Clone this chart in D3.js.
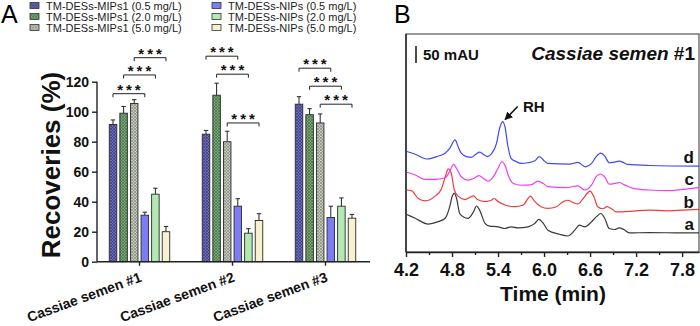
<!DOCTYPE html>
<meta charset="utf-8">
<style>
body { margin: 0; background: #fff; }
svg { font-family: "Liberation Sans", Arial, sans-serif; }
.axis path, .axis line { stroke: #222; stroke-width: 1.4px; }
.axis text { font-weight: bold; fill: #111; }
</style>
<svg width="700" height="326"></svg>
<script src="https://d3js.org/d3.v7.min.js"></script>
<script>

// ---- panel A data ----
var groups = ["Cassiae semen #1", "Cassiae semen #2", "Cassiae semen #3"];
var seriesNames = ["TM-DESs-MIPs1 (0.5 mg/L)", "TM-DESs-MIPs1 (2.0 mg/L)", "TM-DESs-MIPs1 (5.0 mg/L)",
                   "TM-DESs-NIPs (0.5 mg/L)", "TM-DESs-NIPs (2.0 mg/L)", "TM-DESs-NIPs (5.0 mg/L)"];
// recoveries[series][group]
var recoveries = [[91.5, 85, 105], [99, 111, 98], [105.5, 80, 92.5],
                  [31, 37, 29.5], [45, 19, 37], [20, 27.5, 29]];
var errors = [[3, 2.5, 5], [4.5, 8, 4], [2.5, 7, 6],
              [2, 5, 7.5], [4, 3, 5.5], [3.5, 4.5, 2.5]];
// significance bracket heights (%), per group, for pairs 1-4, 2-5, 3-6
var bracketLevels = [[112, 124.5, 136], [137, 125, 92.5], [129, 117, 105]];
var yTicks = [0, 20, 40, 60, 80, 100, 120];

// ---- panel B data: [time (min), absorbance (mAU, stacked)] ----
var traceA = [[4.21,110],[4.32,99],[4.49,82],[4.62,89],[4.71,99],[4.77,133],[4.80,162],[4.83,172],[4.86,157],[4.90,113],[4.95,103],[5.01,99],[5.08,118],[5.12,135],[5.16,123],[5.23,84],[5.29,76],[5.40,74],[5.49,69],[5.57,74],[5.66,71],[5.79,74],[5.88,84],[5.93,96],[5.99,84],[6.05,64],[6.20,52],[6.31,47],[6.40,64],[6.46,79],[6.53,74],[6.62,89],[6.68,103],[6.74,113],[6.79,99],[6.85,69],[6.92,66],[6.98,71],[7.04,66],[7.11,56],[7.37,57],[7.81,56],[8.02,56]];
var traceB = [[4.21,182],[4.27,180],[4.36,157],[4.45,150],[4.58,164],[4.66,184],[4.72,226],[4.75,244],[4.79,231],[4.83,182],[4.88,164],[4.97,154],[5.03,160],[5.08,165],[5.13,154],[5.23,148],[5.31,152],[5.35,157],[5.40,148],[5.49,138],[5.62,133],[5.73,138],[5.79,157],[5.82,164],[5.88,148],[5.96,133],[6.05,128],[6.16,133],[6.25,148],[6.31,152],[6.38,145],[6.44,141],[6.51,157],[6.57,174],[6.60,179],[6.65,162],[6.70,133],[6.77,127],[6.82,133],[6.88,127],[6.94,118],[7.16,120],[7.37,123],[7.59,121],[7.81,123],[8.02,125]];
var traceC = [[4.21,234],[4.32,226],[4.45,213],[4.58,213],[4.71,218],[4.77,236],[4.82,257],[4.87,241],[4.92,221],[5.01,211],[5.10,218],[5.15,224],[5.21,216],[5.27,208],[5.34,221],[5.40,246],[5.45,265],[5.49,255],[5.54,221],[5.60,201],[5.70,196],[5.83,197],[5.92,208],[5.99,201],[6.05,192],[6.29,189],[6.44,194],[6.53,182],[6.62,197],[6.68,221],[6.73,229],[6.79,221],[6.85,199],[6.92,201],[6.98,204],[7.05,197],[7.16,187],[7.37,182],[7.59,180],[7.81,184],[8.02,189]];
var traceD = [[4.21,295],[4.32,287],[4.47,273],[4.60,280],[4.71,290],[4.77,304],[4.84,329],[4.88,309],[4.92,290],[4.99,280],[5.05,278],[5.11,287],[5.16,293],[5.22,285],[5.26,280],[5.32,290],[5.38,319],[5.42,363],[5.46,383],[5.49,368],[5.53,309],[5.57,275],[5.64,265],[5.70,260],[5.79,262],[5.88,268],[5.94,280],[6.00,268],[6.05,260],[6.33,258],[6.44,263],[6.54,250],[6.62,260],[6.68,280],[6.74,290],[6.79,282],[6.85,262],[6.92,264],[6.98,267],[7.04,262],[7.09,257],[7.37,254],[8.02,252]];
var traceLabels = ["a", "b", "c", "d"];
var timeTicks = [4.2, 4.8, 5.4, 6.0, 6.6, 7.2, 7.8];
var timeMinor = [4.5, 5.1, 5.7, 6.3, 6.9, 7.5];
var rhPeak = [5.46, 383];

var svg = d3.select("svg");

// fills
var baseCols = ["#6a6ab8", "#78a878", "#c4c8bc", "#7d7df2", "#b2e8b2", "#f7f1d0"];
var hatchCols = ["#35357a", "#3c683c", "#7c8474"];
var defs = svg.append("defs");
hatchCols.forEach(function(c, i) {
  var p = defs.append("pattern")
      .attr("id", "hatch" + i)
      .attr("patternUnits", "userSpaceOnUse")
      .attr("width", 3).attr("height", 3);
  p.append("rect").attr("width", 3).attr("height", 3).attr("fill", baseCols[i]);
  p.append("path").attr("d", "M0,0L3,3M3,0L0,3M-1,2L1,4M2,-1L4,1")
      .attr("stroke", c).attr("stroke-width", 0.6);
});
function fillFor(i) { return i < 3 ? "url(#hatch" + i + ")" : baseCols[i]; }

// ================= panel A =================
var gA = svg.append("g");

gA.append("text").attr("x", 1).attr("y", 23)
    .style("font-size", "25px").text("A");

// legend
var legend = gA.selectAll(".leg").data(seriesNames).enter().append("g")
    .attr("transform", function(d, i) {
      return "translate(" + (i < 3 ? 30 : 212) + "," + (5.5 + (i % 3) * 11) + ")";
    });
legend.append("rect").attr("x", 0).attr("y", -3).attr("width", 9).attr("height", 6)
    .attr("fill", function(d, i) { return fillFor(i); })
    .attr("stroke", "#333").attr("stroke-width", 0.8);
legend.append("text").attr("x", 16).attr("y", 4)
    .style("font-size", "11px").attr("fill", "#222")
    .text(function(d) { return d; });

var y = d3.scaleLinear().domain([0, 120]).range([261.7, 81.7]);
var x0 = d3.scaleBand().domain(groups).range([93, 372]);
var x1 = d3.scaleBand().domain(d3.range(6)).range([0, 60.5]).paddingInner(0.29);
function barLeft(g, s) { return x0(groups[g]) + x0.bandwidth() / 2 - 30.25 + x1(s); }
function barMid(g, s) { return barLeft(g, s) + x1.bandwidth() / 2; }

var bars = [];
recoveries.forEach(function(vals, s) {
  vals.forEach(function(v, g) { bars.push({s: s, g: g, v: v, e: errors[s][g]}); });
});

// error bars (upper only)
var eb = gA.append("g").selectAll("g").data(bars).enter().append("g");
eb.append("line")
    .attr("x1", function(d) { return barMid(d.g, d.s); })
    .attr("x2", function(d) { return barMid(d.g, d.s); })
    .attr("y1", function(d) { return y(d.v); })
    .attr("y2", function(d) { return y(d.v + d.e); })
    .attr("stroke", "#222").attr("stroke-width", 1);
eb.append("line")
    .attr("x1", function(d) { return barMid(d.g, d.s) - 2.2; })
    .attr("x2", function(d) { return barMid(d.g, d.s) + 2.2; })
    .attr("y1", function(d) { return y(d.v + d.e); })
    .attr("y2", function(d) { return y(d.v + d.e); })
    .attr("stroke", "#222").attr("stroke-width", 1);

gA.append("g").selectAll("rect").data(bars).enter().append("rect")
    .attr("x", function(d) { return barLeft(d.g, d.s); })
    .attr("y", function(d) { return y(d.v); })
    .attr("width", x1.bandwidth())
    .attr("height", function(d) { return y(0) - y(d.v); })
    .attr("fill", function(d) { return fillFor(d.s); })
    .attr("stroke", "#2a2a2a").attr("stroke-width", 0.9);

// axes
var yAxis = gA.append("g").attr("class", "axis")
    .attr("transform", "translate(97,0)")
    .call(d3.axisLeft(y).tickValues(yTicks).tickSize(5).tickPadding(3).tickSizeOuter(0));
yAxis.select(".domain").attr("d", "M0," + y(120) + "V" + y(0));
yAxis.selectAll("text").style("font-size", "14px").attr("dy", "0.36em");

var xAxis = gA.append("g").attr("class", "axis")
    .attr("transform", "translate(0," + y(0) + ")")
    .call(d3.axisBottom(x0).tickSize(4).tickSizeOuter(0).tickFormat(""));
xAxis.select(".domain").attr("d", "M97,0H370");

gA.selectAll(".xlab").data(groups).enter().append("text")
    .attr("transform", function(d) {
      return "translate(" + (x0(d) + x0.bandwidth() / 2 + 3) + ",281) rotate(-20)";
    })
    .attr("text-anchor", "end")
    .style("font-size", "14px").style("font-weight", "bold").attr("fill", "#111")
    .text(function(d) { return d; });

gA.append("text")
    .attr("transform", "translate(60,165) rotate(-90)")
    .attr("text-anchor", "middle")
    .style("font-size", "26px").style("font-weight", "bold").attr("fill", "#111")
    .text("Recoveries (%)");

// significance brackets
var br = [];
bracketLevels.forEach(function(levels, g) {
  levels.forEach(function(lv, k) { br.push({g: g, a: k, b: k + 3, lv: lv}); });
});
var bg = gA.append("g").selectAll("g").data(br).enter().append("g");
bg.append("path")
    .attr("d", function(d) {
      var xa = barMid(d.g, d.a), xb = barMid(d.g, d.b), yy = y(d.lv);
      return "M" + xa + "," + (yy + 3.5) + "V" + yy + "H" + xb + "V" + (yy + 3.5);
    })
    .attr("fill", "none").attr("stroke", "#222").attr("stroke-width", 1);
bg.append("text")
    .attr("x", function(d) { return (barMid(d.g, d.a) + barMid(d.g, d.b)) / 2 + 1.5; })
    .attr("y", function(d) { return y(d.lv) + 1; })
    .attr("text-anchor", "middle")
    .style("font-size", "15px").style("font-weight", "bold").style("letter-spacing", "3px")
    .attr("fill", "#111")
    .text("***");

// ================= panel B =================
var gB = svg.append("g");
gB.append("text").attr("x", 394).attr("y", 23)
    .style("font-size", "25px").text("B");

var xt = d3.scaleLinear().domain([4.2, 8.02]).range([406, 699]);
var ya = d3.scaleLinear().domain([0, 640]).range([252, 34]);

gB.append("rect")
    .attr("x", xt(4.2)).attr("y", ya(640))
    .attr("width", xt(8.02) - xt(4.2)).attr("height", ya(0) - ya(640))
    .attr("fill", "none").attr("stroke", "#555").attr("stroke-width", 1.2);

var tAxis = gB.append("g").attr("class", "axis")
    .attr("transform", "translate(0," + ya(0) + ")")
    .call(d3.axisBottom(xt).tickValues(timeTicks).tickSize(5).tickPadding(6).tickSizeOuter(0)
      .tickFormat(d3.format(".1f")));
tAxis.selectAll("text").style("font-size", "18px");
gB.append("g").attr("class", "axis")
    .attr("transform", "translate(0," + ya(0) + ")")
    .call(d3.axisBottom(xt).tickValues(timeMinor).tickSize(3).tickSizeOuter(0).tickFormat(""))
    .select(".domain").remove();
gB.append("line").attr("x1", xt(4.2)).attr("x2", xt(4.2))
    .attr("y1", ya(640)).attr("y2", ya(0))
    .attr("stroke", "#222").attr("stroke-width", 1.4);

gB.append("text").attr("x", 553).attr("y", 301)
    .attr("text-anchor", "middle")
    .style("font-size", "21px").style("font-weight", "bold").attr("fill", "#111")
    .text("Time (min)");

var traces = [traceA, traceB, traceC, traceD];
var traceCols = ["#3a3a3a", "#f23a3a", "#f040f0", "#3f48f2"];
var line = d3.line()
    .x(function(d) { return xt(d[0]); })
    .y(function(d) { return ya(d[1]); })
    .curve(d3.curveMonotoneX);

gB.append("g").selectAll("path").data(traces).enter().append("path")
    .attr("d", line)
    .attr("fill", "none")
    .attr("stroke", function(d, i) { return traceCols[i]; })
    .attr("stroke-width", 1.2);

gB.selectAll(".tl").data(traceLabels).enter().append("text")
    .attr("x", 694)
    .attr("y", function(d, i) { return [230, 208, 185, 163][i]; })
    .attr("text-anchor", "end")
    .style("font-size", "17px").style("font-weight", "bold").attr("fill", "#111")
    .text(function(d) { return d; });

// 50 mAU scale bar
gB.append("line").attr("x1", 416).attr("x2", 416)
    .attr("y1", ya(605)).attr("y2", ya(555))
    .attr("stroke", "#111").attr("stroke-width", 1.5);
gB.append("text").attr("x", 423).attr("y", 60)
    .style("font-size", "15px").style("font-weight", "bold").attr("fill", "#111")
    .text("50 mAU");

var title = gB.append("text").attr("x", 695).attr("y", 60)
    .attr("text-anchor", "end")
    .style("font-size", "19px").style("font-weight", "bold").attr("fill", "#111");
title.append("tspan").style("font-style", "italic").text("Cassiae semen ");
title.append("tspan").text("#1");

// RH annotation
defs.append("marker").attr("id", "arr")
    .attr("viewBox", "0 0 10 10").attr("refX", 9).attr("refY", 5)
    .attr("markerWidth", 5).attr("markerHeight", 5).attr("orient", "auto")
  .append("path").attr("d", "M0,0L10,5L0,10z").attr("fill", "#111");
gB.append("line")
    .attr("x1", xt(rhPeak[0]) + 15).attr("y1", ya(rhPeak[1]) - 15)
    .attr("x2", xt(rhPeak[0]) + 2.5).attr("y2", ya(rhPeak[1]) - 2)
    .attr("stroke", "#111").attr("stroke-width", 1.6)
    .attr("marker-end", "url(#arr)");
gB.append("text").attr("x", 523).attr("y", 112)
    .style("font-size", "15px").style("font-weight", "bold").attr("fill", "#111")
    .text("RH");

</script>
